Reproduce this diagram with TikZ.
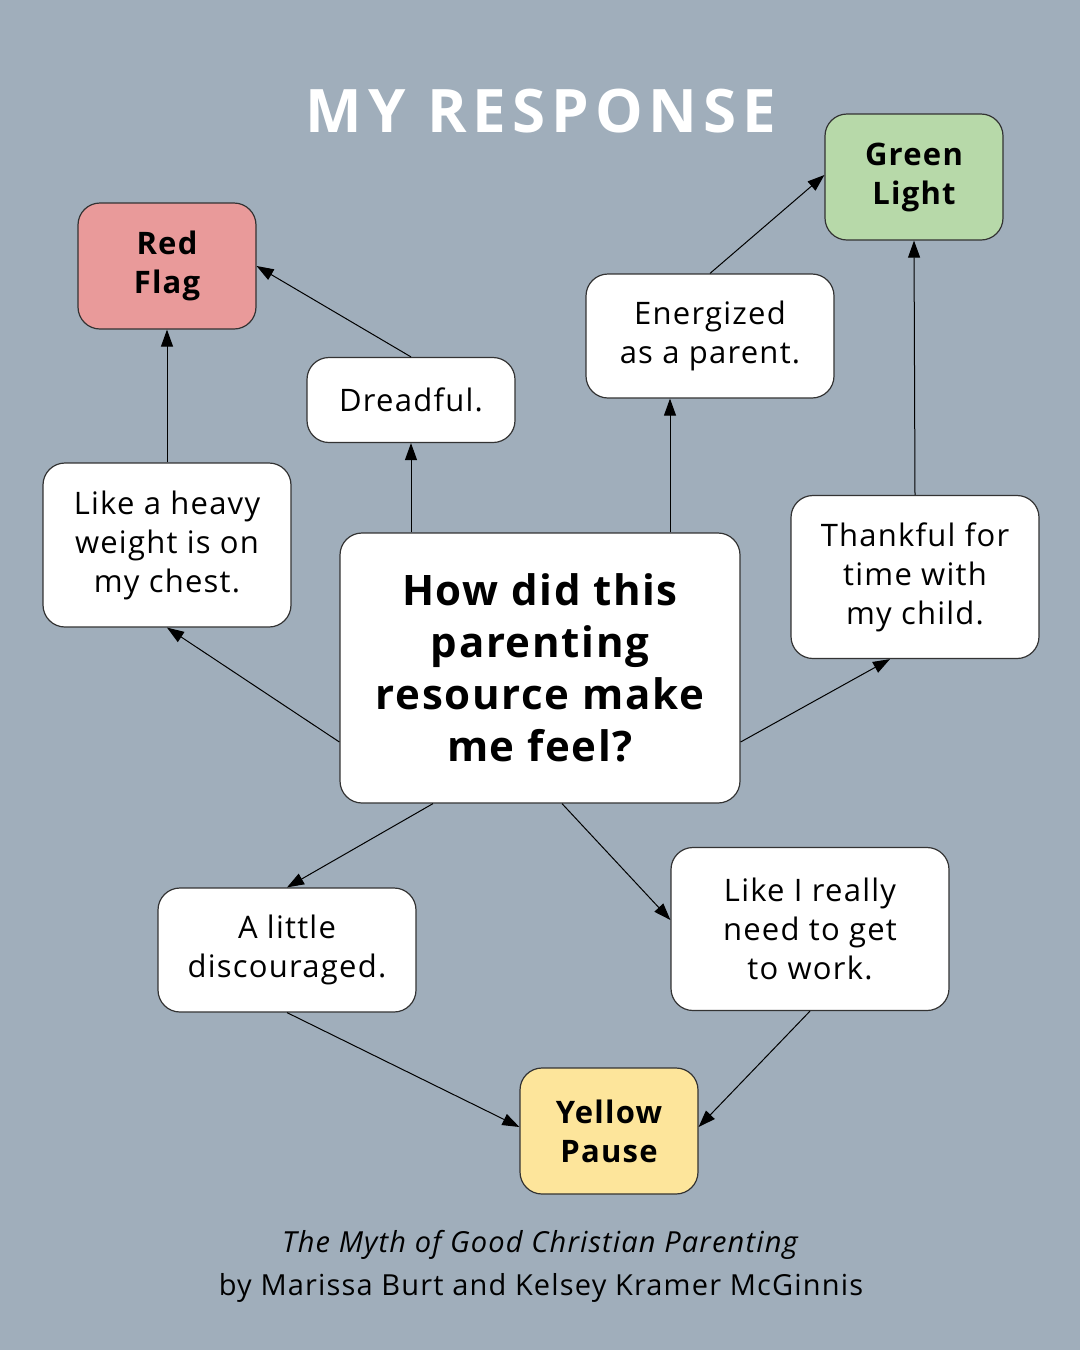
\documentclass[tikz,border=0pt]{standalone}
\usepackage{fontspec}
\setmainfont{Open Sans}[LetterSpace=4]
\newfontfamily\titlefont{Open Sans}[LetterSpace=10]
\usetikzlibrary{arrows.meta,positioning}
\definecolor{bgslate}{HTML}{A0AEBB}
\definecolor{flagred}{HTML}{E99A9A}
\definecolor{lightgreen}{HTML}{B7D9A9}
\definecolor{pauseyellow}{HTML}{FDE59B}
\definecolor{edgegray}{HTML}{333333}

\begin{document}
\begin{tikzpicture}[
  x=1pt, y=-1pt,
  box/.style={draw=edgegray, line width=1.2pt, rounded corners=22pt, fill=white, align=center,
    inner sep=0pt, font=\fontsize{31}{39}\selectfont},
  signal/.style={box, font=\fontsize{31}{39}\selectfont\bfseries, minimum width=178pt, minimum height=126pt},
  hub/.style={box, font=\fontsize{42}{52}\selectfont\bfseries},
  arr/.style={-{Triangle[length=17pt,width=12pt]}, line width=1pt, draw=black}
]
\path[use as bounding box, fill=bgslate] (0,0) rectangle (1080,1350);

\node[font=\titlefont\fontsize{60}{70}\selectfont\bfseries, text=white] (title) at (541,111) {MY RESPONSE};

% outcomes
\node[signal, fill=flagred] (red) at (167,266) {Red\\Flag};
\node[signal, fill=lightgreen] (green) at (914,177) {Green\\Light};
\node[signal, fill=pauseyellow] (yellow) at (609,1131) {Yellow\\Pause};

% feelings
\node[box, minimum width=208pt, minimum height=85pt] (dread) at (411,400) {Dreadful.};
\node[box, minimum width=248pt, minimum height=124pt] (energ) at (710,336) {Energized\\as a parent.};
\node[box, minimum width=248pt, minimum height=164pt] (heavy) at (167,545) {Like a heavy\\weight is on\\my chest.};
\node[box, minimum width=248pt, minimum height=163pt] (thank) at (915,577) {Thankful for\\time with\\my child.};
\node[box, minimum width=258pt, minimum height=124pt] (discour) at (287,950) {A little\\discouraged.};
\node[box, minimum width=278pt, minimum height=163pt] (work) at (810,929) {Like I really\\need to get\\to work.};

\node[hub, minimum width=400pt, minimum height=270pt] (ctr) at (540,668) {How did this\\parenting\\resource make\\me feel?};

\node[align=center, font=\fontsize{29}{43}\selectfont] (footer) at (541,1266)
  {\textit{The Myth of Good Christian Parenting}\\by Marissa Burt and Kelsey Kramer McGinnis};

\draw[arr] (heavy.north) -- (red.south);
\draw[arr] (dread.north) -- (red.east);
\draw[arr] ([xshift=-129pt]ctr.north) -- (dread.south);
\draw[arr] ([xshift=130pt]ctr.north) -- ([xshift=-40pt]energ.south);
\draw[arr] (energ.north) -- ([yshift=2pt]green.west);
\draw[arr] (thank.north) -- (green.south);
\draw[arr] ([yshift=-74pt]ctr.west) -- (heavy.south);
\draw[arr] ([yshift=-74pt]ctr.east) -- ([xshift=-25pt]thank.south);
\draw[arr] ([xshift=-107pt]ctr.south) -- (discour.north);
\draw[arr] ([xshift=22pt]ctr.south) -- ([yshift=9pt]work.west);
\draw[arr] (discour.south) -- ([yshift=4pt]yellow.west);
\draw[arr] (work.south) -- ([yshift=4pt]yellow.east);
\end{tikzpicture}
\end{document}
